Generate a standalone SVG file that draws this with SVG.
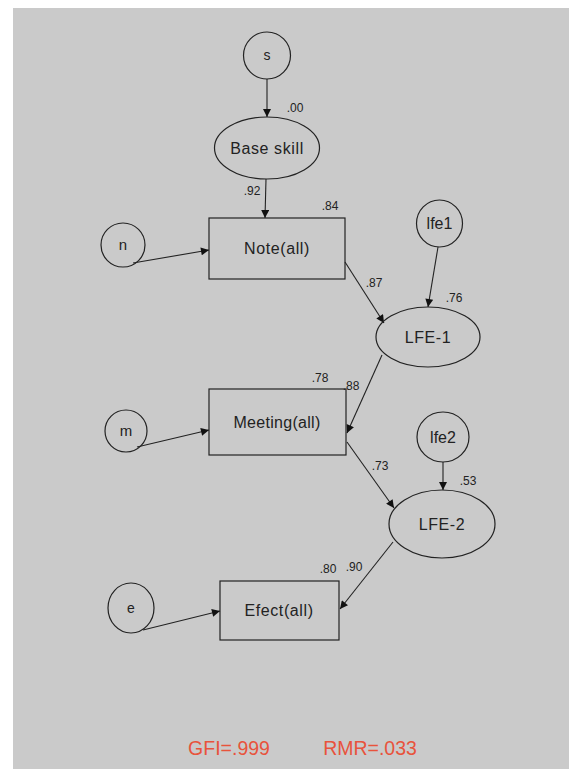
<svg xmlns="http://www.w3.org/2000/svg" width="569" height="769" viewBox="0 0 569 769">
<style>
.sh{fill:none;stroke:#222;stroke-width:1.2}
.lb{font-family:"Liberation Sans",Arial,sans-serif;font-size:16px;letter-spacing:0.6px;fill:#222;text-anchor:middle}
.sm{font-family:"Liberation Sans",Arial,sans-serif;font-size:12px;fill:#222;text-anchor:middle}
.fit{font-family:"Liberation Sans",Arial,sans-serif;font-size:19.5px;fill:#e8533c;text-anchor:middle}
.cn{fill:none;stroke:#222;stroke-width:1.1;marker-end:url(#ah)}
</style>
<defs>
<marker id="ah" viewBox="0 0 10 10" refX="10" refY="5" markerWidth="9" markerHeight="8" markerUnits="userSpaceOnUse" orient="auto">
<path d="M0,0 L10,5 L0,10 z" fill="#111"/>
</marker>
</defs>
<rect x="0" y="0" width="569" height="769" fill="#ffffff"/>
<rect x="13" y="8" width="556" height="761" fill="#cacaca"/>

<g id="connectors">
<line class="cn" x1="267" y1="79" x2="267" y2="117"/>
<line class="cn" x1="266" y1="179" x2="265" y2="218"/>
<line class="cn" x1="133" y1="263" x2="209" y2="250"/>
<line class="cn" x1="345" y1="262" x2="384" y2="323"/>
<line class="cn" x1="438" y1="247" x2="428" y2="307"/>
<line class="cn" x1="382" y1="355" x2="347" y2="433"/>
<line class="cn" x1="137" y1="447" x2="209" y2="430"/>
<line class="cn" x1="347" y1="442" x2="394" y2="508"/>
<line class="cn" x1="443" y1="462" x2="443" y2="490"/>
<line class="cn" x1="393" y1="542" x2="340" y2="609"/>
<line class="cn" x1="143" y1="630" x2="220" y2="611"/>
</g>

<g id="s"><ellipse class="sh" cx="267" cy="55.5" rx="23.5" ry="23.5"/><text class="sm" x="267" y="60" style="font-size:14px">s</text></g>
<g id="base_skill"><ellipse class="sh" cx="267" cy="148" rx="52.5" ry="31"/><text class="lb" x="267" y="154">Base skill</text></g>
<g id="note"><rect class="sh" x="209" y="218" width="136" height="61"/><text class="lb" x="277" y="254">Note(all)</text></g>
<g id="n"><circle class="sh" cx="123" cy="245" r="22"/><text class="sm" x="123" y="250" style="font-size:15px">n</text></g>
<g id="lfe1"><ellipse class="sh" cx="439.5" cy="223.5" rx="23" ry="23.5"/><text class="lb" x="439.5" y="229" style="letter-spacing:0">lfe1</text></g>
<g id="lfe_1"><ellipse class="sh" cx="428" cy="337" rx="52" ry="30"/><text class="lb" x="428" y="343">LFE-1</text></g>
<g id="meeting"><rect class="sh" x="209" y="389" width="137" height="66"/><text class="lb" x="277" y="428" style="letter-spacing:0.3px">Meeting(all)</text></g>
<g id="m"><circle class="sh" cx="126" cy="431" r="21"/><text class="sm" x="126" y="436" style="font-size:15px">m</text></g>
<g id="lfe2"><ellipse class="sh" cx="443" cy="437" rx="26" ry="25"/><text class="lb" x="443" y="443" style="letter-spacing:0">lfe2</text></g>
<g id="lfe_2"><ellipse class="sh" cx="442" cy="524" rx="53" ry="34"/><text class="lb" x="442" y="530">LFE-2</text></g>
<g id="efect"><rect class="sh" x="220" y="581" width="119" height="59"/><text class="lb" x="279" y="616">Efect(all)</text></g>
<g id="e"><ellipse class="sh" cx="131" cy="608" rx="23" ry="25"/><text class="sm" x="131" y="613" style="font-size:14px">e</text></g>

<g id="labels">
<text class="sm" x="295" y="112">.00</text>
<text class="sm" x="252" y="195">.92</text>
<text class="sm" x="330" y="210">.84</text>
<text class="sm" x="374" y="287">.87</text>
<text class="sm" x="454" y="302">.76</text>
<text class="sm" x="320" y="382">.78</text>
<text class="sm" x="351" y="390">.88</text>
<text class="sm" x="380" y="470">.73</text>
<text class="sm" x="468" y="485">.53</text>
<text class="sm" x="328" y="573">.80</text>
<text class="sm" x="354" y="571">.90</text>
<text class="fit" x="229" y="755">GFI=.999</text>
<text class="fit" x="370" y="755">RMR=.033</text>
</g>
</svg>
